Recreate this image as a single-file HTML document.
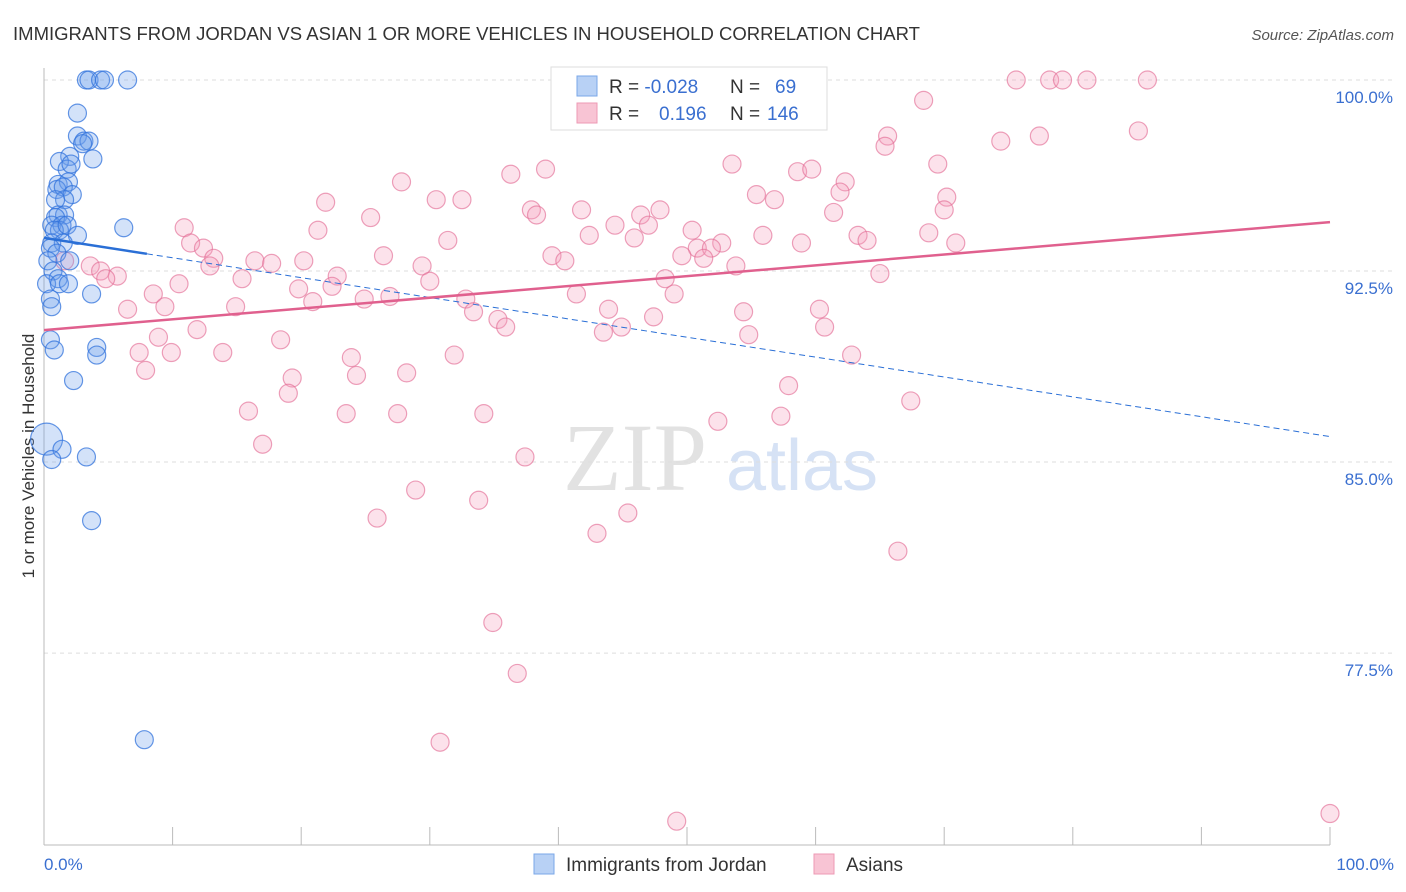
<!DOCTYPE html>
<html><head><meta charset="utf-8"><style>
body{margin:0;background:#fff;font-family:"Liberation Sans",sans-serif}
</style></head><body>
<svg id="c" width="1406" height="892" xmlns="http://www.w3.org/2000/svg" style="display:block">
<text x="13" y="40" font-size="18" fill="#333" textLength="907" lengthAdjust="spacingAndGlyphs">IMMIGRANTS FROM JORDAN VS ASIAN 1 OR MORE VEHICLES IN HOUSEHOLD CORRELATION CHART</text>
<text x="1394" y="40" font-size="15" fill="#555" text-anchor="end" font-style="italic">Source: ZipAtlas.com</text>
<text transform="translate(34,456) rotate(-90)" font-size="17" fill="#333" text-anchor="middle">1 or more Vehicles in Household</text>
<g><text x="635" y="490" font-size="96" fill="#e2e2e2" font-family="Liberation Serif" text-anchor="middle">ZIP</text><text x="802" y="490" font-size="72" fill="#d6e2f5" text-anchor="middle">atlas</text></g>
<g id="grid"></g><g id="axes"></g><g id="pts"></g><g id="trend"></g>
<g>
<rect x="551" y="67" width="276" height="63" fill="#fff" stroke="#ddd"/>
<rect x="577" y="76" width="20" height="20" fill="#b8d1f5" stroke="#7aa7e8"/>
<rect x="577" y="103" width="20" height="20" fill="#f8c4d4" stroke="#ee9ab4"/>
<text x="609" y="93" font-size="19" fill="#333">R = <tspan fill="#3a6fd0">-0.028</tspan><tspan x="730">N = </tspan><tspan x="775" fill="#3a6fd0">69</tspan></text>
<text x="609" y="120" font-size="19" fill="#333">R = <tspan x="659" fill="#3a6fd0">0.196</tspan><tspan x="730">N = </tspan><tspan x="767" fill="#3a6fd0">146</tspan></text>
</g>
<g>
<rect x="534" y="854" width="20" height="20" fill="#b8d1f5" stroke="#7aa7e8"/>
<text x="566" y="871" font-size="19" fill="#333">Immigrants from Jordan</text>
<rect x="814" y="854" width="20" height="20" fill="#f8c4d4" stroke="#ee9ab4"/>
<text x="846" y="871" font-size="19" fill="#333">Asians</text>
</g>
</svg>
<script>
const yTicks=[100,92.5,85,77.5];
const yTickLabels=["100.0%","92.5%","85.0%","77.5%"];
const xTickLabels=["0.0%","100.0%"];
const pinkX=[75.6,78.2,79.2,81.1,85.8,56.2,68.4,85.1,74.4,77.4,65.6,65.4,69.5,53.5,39.0,36.3,27.8,58.6,59.7,62.3,61.9,55.4,56.8,70.2,30.5,32.5,21.9,37.9,25.4,38.3,41.8,46.4,47.9,70.0,61.4,10.9,21.3,50.4,44.4,55.9,47.0,42.4,45.9,68.8,63.3,64.0,70.9,58.9,31.4,11.4,12.4,13.2,50.8,52.7,51.9,49.6,51.3,39.5,40.5,26.4,16.4,17.7,20.2,12.9,29.4,53.8,1.6,3.6,4.4,5.7,4.8,22.8,48.3,30.0,65.0,15.4,10.5,8.5,19.8,22.4,20.9,24.9,26.9,32.8,41.4,49.0,14.9,9.4,6.5,33.4,43.9,35.3,35.9,47.4,54.4,60.3,60.7,43.5,44.9,54.8,11.9,18.4,8.9,7.4,9.9,13.9,23.9,31.9,62.8,7.9,24.3,28.2,19.3,19.0,57.9,67.4,15.9,23.5,27.5,34.2,52.4,57.3,17.0,37.4,28.9,33.8,25.9,45.4,43.0,66.4,34.9,36.8,30.8,49.2,100.0];
const pinkY=[100,100,100,100,100,99.8,99.2,98.0,97.6,97.8,97.8,97.4,96.7,96.7,96.5,96.3,96.0,96.4,96.5,96.0,95.6,95.5,95.3,95.4,95.3,95.3,95.2,94.9,94.6,94.7,94.9,94.7,94.9,94.9,94.8,94.2,94.1,94.1,94.3,93.9,94.3,93.9,93.8,94.0,93.9,93.7,93.6,93.6,93.7,93.6,93.4,93.0,93.4,93.6,93.4,93.1,93.0,93.1,92.9,93.1,92.9,92.8,92.9,92.7,92.7,92.7,92.9,92.7,92.5,92.3,92.2,92.3,92.2,92.1,92.4,92.2,92.0,91.6,91.8,91.9,91.3,91.4,91.5,91.4,91.6,91.6,91.1,91.1,91.0,90.9,91.0,90.6,90.3,90.7,90.9,91.0,90.3,90.1,90.3,90.0,90.2,89.8,89.9,89.3,89.3,89.3,89.1,89.2,89.2,88.6,88.4,88.5,88.3,87.7,88.0,87.4,87.0,86.9,86.9,86.9,86.6,86.8,85.7,85.2,83.9,83.5,82.8,83.0,82.2,81.5,78.7,76.7,74.0,70.9,71.2];
const blueX=[3.3,3.5,4.4,4.7,6.5,2.6,2.6,3.1,3.5,3.0,3.8,2.0,1.2,1.8,2.1,1.1,1.9,1.0,1.5,2.2,1.6,0.9,1.1,1.6,0.9,0.6,1.4,1.2,0.8,1.8,6.2,2.6,0.6,1.5,0.5,1.0,0.3,2.0,0.7,1.1,0.2,1.2,1.9,3.7,0.5,0.6,0.5,0.8,4.1,4.1,2.3,0.2,1.4,3.3,0.6,3.7,7.8];
const blueY=[100,100,100,100,100,98.7,97.8,97.6,97.6,97.5,96.9,97.0,96.8,96.5,96.7,95.9,96.0,95.7,95.8,95.5,95.3,95.3,94.7,94.7,94.6,94.3,94.3,94.1,94.1,94.3,94.2,93.9,93.6,93.6,93.4,93.2,92.9,92.9,92.5,92.2,92.0,92.0,92.0,91.6,91.4,91.1,89.8,89.4,89.5,89.2,88.2,85.9,85.5,85.2,85.1,82.7,74.1];
const blueTrend=[93.8,86.0];
const pinkTrend=[90.18,94.42];
const NS="http://www.w3.org/2000/svg";
const X=v=>44+v*12.86, Y=v=>80+(100-v)*25.47;
function mk(t,a,p){const e=document.createElementNS(NS,t);for(const k in a)e.setAttribute(k,a[k]);document.getElementById(p).appendChild(e);return e;}
yTicks.forEach((t,i)=>{
 const g=mk('line',{x1:44,x2:1394,y1:Y(t),y2:Y(t),stroke:'#ddd','stroke-dasharray':'4,4'},'grid');
 
 
 const l=mk('text',{x:1393,y:Y(t)+23,'font-size':17,fill:'#3a6fd0','text-anchor':'end'},'grid');
 
 
 l.textContent=yTickLabels[i];
});
const ax=mk('line',{x1:44,x2:44,y1:68,y2:845,stroke:'#bbb'},'axes');


const bx=mk('line',{x1:44,x2:1330,y1:845,y2:845,stroke:'#bbb'},'axes');


for(let i=0;i<=10;i++){const t=mk('line',{x1:X(i*10),x2:X(i*10),y1:827,y2:845,stroke:'#bbb'},'axes');
 
 }
[[0,'start',44],[100,'end',1394]].forEach((d,i)=>{const t=mk('text',{x:d[2],y:870,'font-size':17,fill:'#3a6fd0','text-anchor':d[1]},'axes');
 
 
 t.textContent=xTickLabels[i];});
pinkX.forEach((v,i)=>{const c=mk('circle',{cx:X(v),cy:Y(pinkY[i]),r:9,fill:'rgba(244,160,188,0.3)',stroke:'rgba(228,110,150,0.65)','stroke-width':1.2},'pts');
 
 });
blueX.forEach((v,i)=>{const c=mk('circle',{cx:X(v),cy:Y(blueY[i]),r:i==51?16:9,fill:'rgba(110,160,235,0.3)',stroke:'rgba(50,115,220,0.75)','stroke-width':1.2},'pts');
 
 });
const by=x=>blueTrend[0]+(blueTrend[1]-blueTrend[0])*x/100;
let t1=mk('line',{x1:X(0),y1:Y(by(0)),x2:X(8),y2:Y(by(8)),stroke:'#2a6fd6','stroke-width':2.5},'trend');


let t2=mk('line',{x1:X(8),y1:Y(by(8)),x2:X(100),y2:Y(by(100)),stroke:'#2a6fd6','stroke-width':1,'stroke-dasharray':'6,4'},'trend');


let t3=mk('line',{x1:X(0),y1:Y(pinkTrend[0]),x2:X(100),y2:Y(pinkTrend[1]),stroke:'#e0608e','stroke-width':2.5},'trend');


</script>
</body></html>
